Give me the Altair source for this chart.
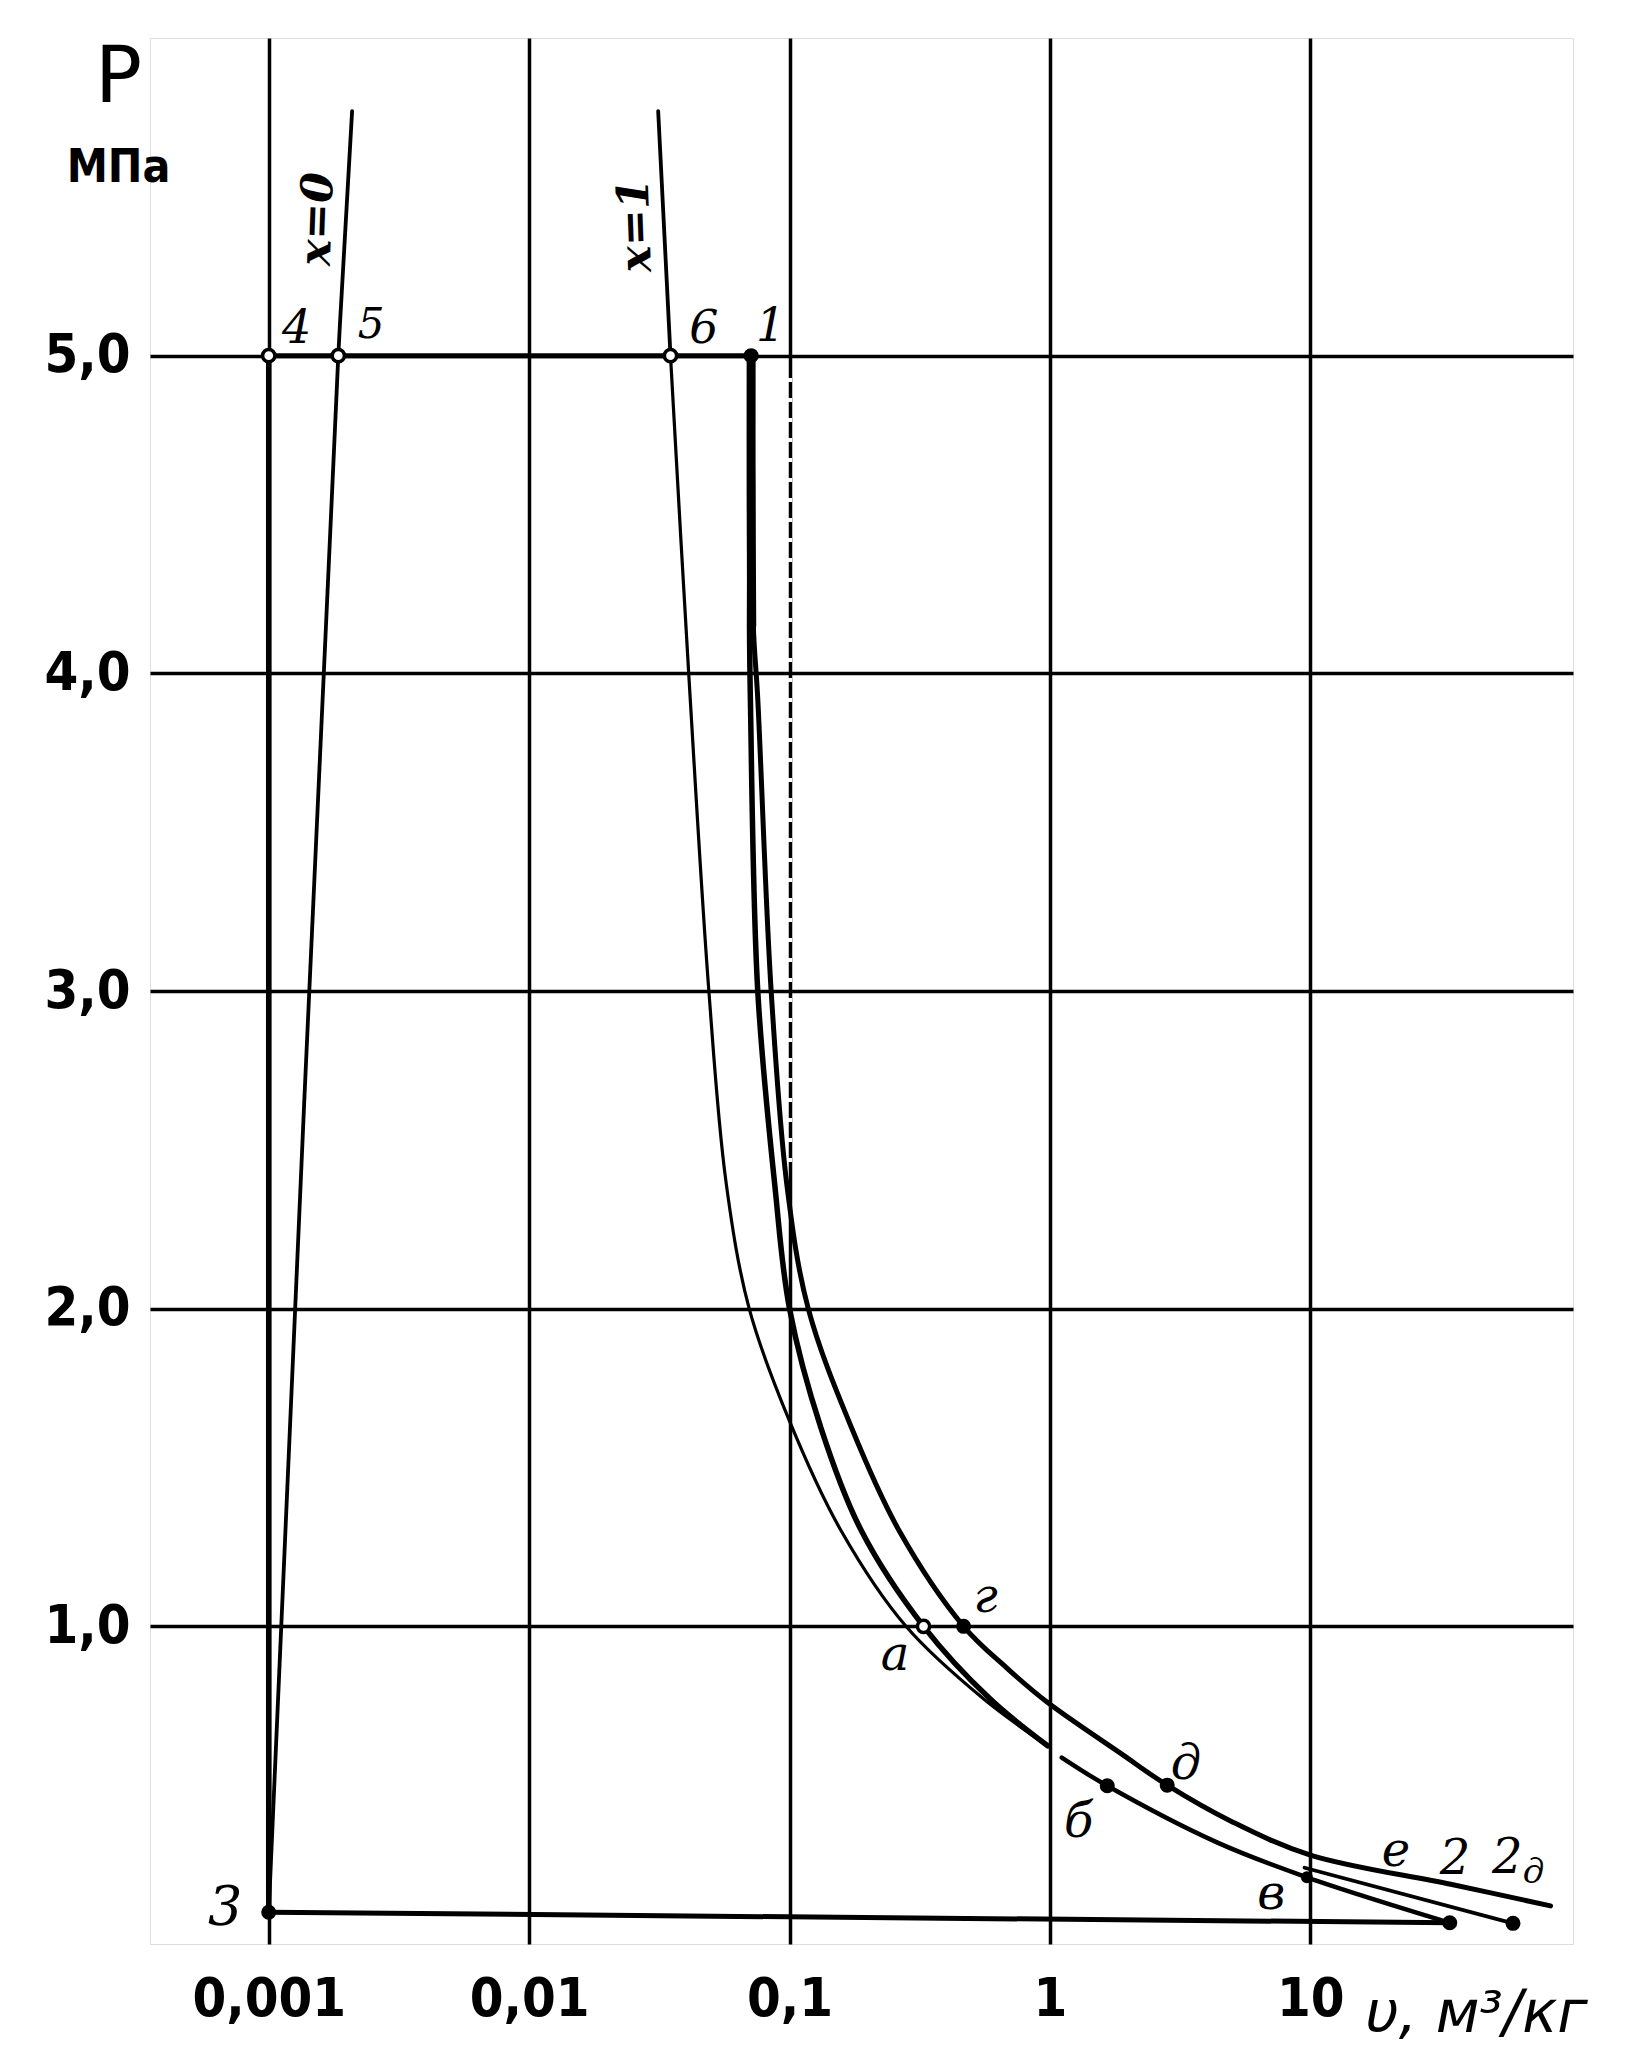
import altair as alt
import pandas as pd

# ---------------- axis ticks ----------------
x_tick_values = [0.001, 0.01, 0.1, 1, 10]
x_tick_labels = ["0,001", "0,01", "0,1", "1", "10"]
y_tick_values = [1, 2, 3, 4, 5]
y_tick_labels = ["1,0", "2,0", "3,0", "4,0", "5,0"]

# ---------------- curves (v in m3/kg, P in MPa) ----------------
x0_v = [0.00209, 0.00185, 0.0010]
x0_p = [5.77, 5.0, 0.10]

x1_top_v = [0.0313, 0.0349]
x1_top_p = [5.77, 5.0]

sat_v = [0.0349, 0.041, 0.049, 0.057, 0.070, 0.100, 0.158, 0.280, 0.557, 0.98]
sat_p = [5.0, 4.0, 3.0, 2.4, 2.0, 1.646, 1.30, 1.0, 0.771, 0.624]

thick_v = [0.0712, 0.0712, 0.0716]
thick_p = [5.0, 4.55, 4.15]

b_v = [0.0712, 0.0706, 0.0702, 0.0708, 0.0755, 0.088, 0.100, 0.132, 0.189, 0.327, 0.59, 0.98]
b_p = [5.0, 4.6, 4.15, 3.9, 3.0, 2.38, 2.0, 1.625, 1.30, 1.0, 0.771, 0.624]

c_v = [0.0712, 0.0722, 0.0726, 0.0755, 0.085, 0.098, 0.118, 0.173, 0.264, 0.466, 0.68, 0.98, 1.87, 2.82, 5.0, 10.0, 34.6, 83.6]
c_p = [5.0, 4.6, 4.15, 3.92, 3.0, 2.38, 2.0, 1.625, 1.30, 1.0, 0.87, 0.76, 0.60, 0.50, 0.385, 0.28, 0.188, 0.12]

d_v = [1.11, 1.66, 4.4, 9.7, 34.3]
d_p = [0.587, 0.498, 0.319, 0.21, 0.067]

g_v = [9.5, 60.0]
g_p = [0.24, 0.065]

bottom_v = [0.001, 34.3]
bottom_p = [0.10, 0.067]

top_v = [0.001, 0.0712]
top_p = [5.0, 5.0]

vert_v = [0.001, 0.001]
vert_p = [5.0, 0.10]

# broken (dotted) stretch of the 0,1 grid line below 5,0
gap_v = [0.1, 0.1]
gap_p = [4.93, 2.45]

curves = {
    "x0": (x0_v, x0_p), "x1top": (x1_top_v, x1_top_p), "sat": (sat_v, sat_p),
    "thick": (thick_v, thick_p),
    "B": (b_v, b_p), "C": (c_v, c_p), "D": (d_v, d_p),
    "G": (g_v, g_p), "bottom": (bottom_v, bottom_p), "top": (top_v, top_p),
    "vert": (vert_v, vert_p),
}
curve_width = {"x0": 3.8, "x1top": 3.8, "sat": 3.2, "thick": 9.0, "B": 5.5, "C": 5.0,
               "D": 4.5, "G": 3.8, "bottom": 5.0, "top": 5.0, "vert": 5.5}

# ---------------- points ----------------
open_names = ["4", "5", "6", "а"]
open_v = [0.001, 0.00185, 0.0349, 0.327]
open_p = [5.0, 5.0, 5.0, 1.0]

dot_names = ["1", "3", "г", "б", "д", "в", "2", "2д"]
dot_v = [0.0712, 0.001, 0.466, 1.66, 2.82, 9.7, 34.3, 60.0]
dot_p = [5.0, 0.10, 1.0, 0.498, 0.50, 0.21, 0.067, 0.065]

# ---------------- labels ----------------
lab_text = ["4", "5", "6", "1", "3", "а", "г", "б", "д", "в", "е", "2", "2", "д"]
lab_v = [0.00128, 0.00247, 0.0469, 0.0846, 0.00068, 0.254, 0.566, 1.289, 3.33, 7.08, 21.3, 35.9, 57.0, 71.9]
lab_p = [5.083, 5.095, 5.083, 5.09, 0.111, 0.908, 1.089, 0.380, 0.565, 0.153, 0.289, 0.264, 0.268, 0.223]
lab_size = [46, 42, 46, 46, 54, 48, 48, 48, 48, 48, 48, 48, 48, 34]

rot_text = ["x=0", "x=1"]
rot_v = [0.00155, 0.0258]
rot_p = [5.43, 5.41]
rot_angle = [272, 268]

unit_text = ["МПа"]
unit_v = [0.000265]
unit_p = [5.59]

# ---------------- build tables ----------------
rows = []
for name, (vs, ps) in curves.items():
    for i, (v, p) in enumerate(zip(vs, ps)):
        rows.append({"curve": name, "i": i, "v": v, "P": p, "w": curve_width[name]})
lines_df = pd.DataFrame(rows)
gap_df = pd.DataFrame({"v": gap_v, "P": gap_p, "i": [0, 1]})
open_df = pd.DataFrame({"name": open_names, "v": open_v, "P": open_p})
dot_df = pd.DataFrame({"name": dot_names, "v": dot_v, "P": dot_p})
dot_df["sz"] = [170 if n != "в" else 100 for n in dot_names]
lab_df = pd.DataFrame({"t": lab_text, "v": lab_v, "P": lab_p, "s": lab_size})
rot_df = pd.DataFrame({"t": rot_text, "v": rot_v, "P": rot_p, "a": rot_angle})
unit_df = pd.DataFrame({"t": unit_text, "v": unit_v, "P": unit_p})


def ternary(values, labels):
    expr = "''"
    for v, l in reversed(list(zip(values, labels))):
        expr = f"(abs(datum.value - {v}) < {v * 1e-6}) ? '{l}' : {expr}"
    return expr


TICK_FONT = "DejaVu Sans Condensed, Liberation Sans Narrow, sans-serif"

x_axis = alt.Axis(
    values=x_tick_values, labelExpr=ternary(x_tick_values, x_tick_labels),
    grid=True, gridColor="black", gridWidth=3.5, gridOpacity=1,
    domain=False, ticks=False, labelOverlap=False, labelFlush=False,
    labelFont=TICK_FONT, labelFontSize=54, labelFontWeight="bold",
    labelColor="black", labelPadding=28,
    title="υ, м³/кг", titleFont="DejaVu Sans", titleFontSize=58,
    titleFontWeight="normal", titleFontStyle="italic", titleColor="black",
    titleX=1326, titleY=70, titleAlign="center", titleBaseline="middle",
)
y_axis = alt.Axis(
    values=y_tick_values, labelExpr=ternary(y_tick_values, y_tick_labels),
    grid=True, gridColor="black", gridWidth=3.5, gridOpacity=1,
    domain=False, ticks=False, labelOverlap=False, labelFlush=False,
    labelFont=TICK_FONT, labelFontSize=54, labelFontWeight="bold",
    labelColor="black", labelPadding=20, labelBaseline="middle",
    title="P", titleFont="DejaVu Sans", titleFontSize=78, titleFontWeight="normal",
    titleColor="black", titleAngle=0, titleX=-32, titleY=40,
    titleAlign="center", titleBaseline="middle",
)

xs = alt.Scale(type="log", domain=[0.00035, 102])
ys = alt.Scale(domain=[0, 6])
X = alt.X("v:Q", scale=xs, axis=x_axis)
Y = alt.Y("P:Q", scale=ys, axis=y_axis)

gaps = alt.Chart(gap_df).mark_line(
    color="white", strokeWidth=5, strokeDash=[4, 16]
).encode(x=X, y=Y, order="i:Q")

lines = alt.Chart(lines_df).mark_line(
    color="black", interpolate="catmull-rom", strokeCap="round", strokeJoin="round"
).encode(
    x=X, y=Y, detail="curve:N", order="i:Q",
    strokeWidth=alt.StrokeWidth("w:Q", scale=None, legend=None),
)

opens = alt.Chart(open_df).mark_point(
    shape="circle", filled=True, fill="white", stroke="black", strokeWidth=3.5,
    size=150, opacity=1,
).encode(x=X, y=Y)

dots = alt.Chart(dot_df).mark_point(
    shape="circle", filled=True, fill="black", stroke="black", opacity=1,
).encode(x=X, y=Y, size=alt.Size("sz:Q", scale=None, legend=None))

labels = alt.Chart(lab_df).mark_text(
    font="DejaVu Serif", fontStyle="italic", color="black",
    align="center", baseline="middle",
).encode(x=X, y=Y, text="t:N", size=alt.Size("s:Q", scale=None, legend=None))

rot_labels = alt.Chart(rot_df).mark_text(
    font="DejaVu Serif", fontStyle="italic", fontWeight="bold", fontSize=44, color="black",
    align="center", baseline="middle",
).encode(x=X, y=Y, text="t:N", angle=alt.Angle("a:Q", scale=None))

unit = alt.Chart(unit_df).mark_text(
    font=TICK_FONT, fontWeight="bold", fontSize=46, color="black",
    align="center", baseline="middle",
).encode(x=X, y=Y, text="t:N")

chart = alt.layer(gaps, lines, opens, dots, labels, rot_labels, unit).properties(
    width=1423, height=1906,
    autosize=alt.AutoSizeParams(type="none"),
    padding={"left": 142, "top": 30, "right": 66, "bottom": 100},
).configure_view(
    stroke="black", strokeWidth=4.5
).configure(background="white")

chart.save("out.html", embed_options={"renderer": "svg", "actions": False})
